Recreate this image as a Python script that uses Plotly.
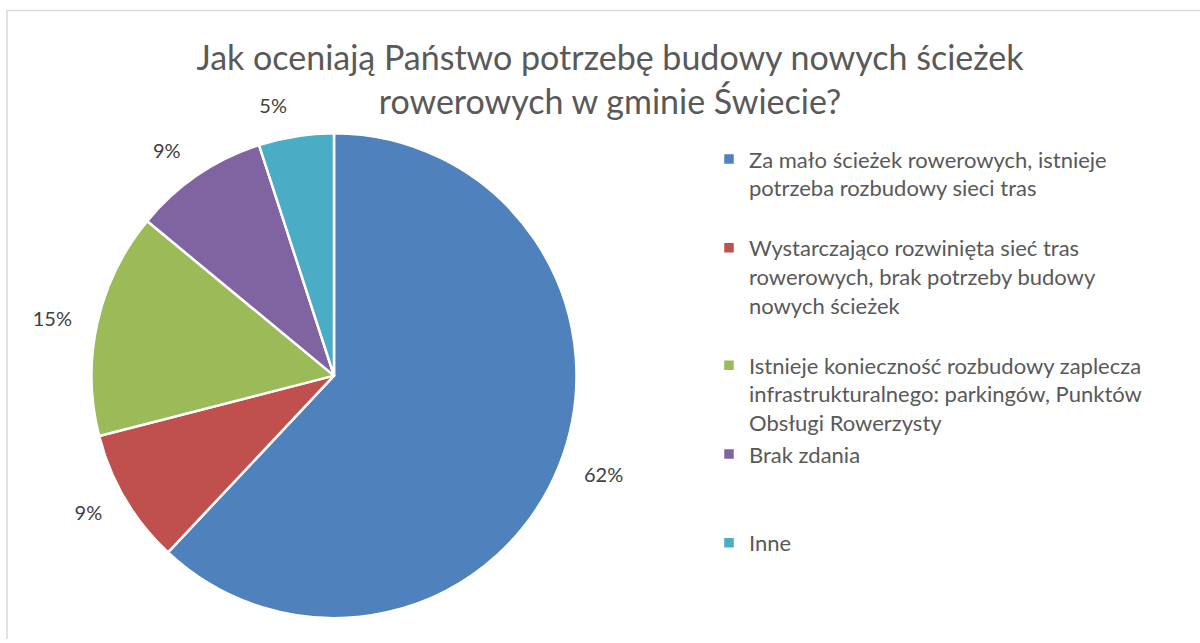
import plotly.graph_objects as go

categories = [
    "Za mało ścieżek rowerowych, istnieje<br>potrzeba rozbudowy sieci tras",
    "Wystarczająco rozwinięta sieć tras<br>rowerowych, brak potrzeby budowy<br>nowych ścieżek",
    "Istnieje konieczność rozbudowy zaplecza<br>infrastrukturalnego: parkingów, Punktów<br>Obsługi Rowerzysty",
    "Brak zdania",
    "Inne",
]
values = [62, 9, 15, 9, 5]
colors = ["#4F81BD", "#C0504D", "#9BBB59", "#8064A2", "#4BACC6"]
title_text = "Jak oceniają Państwo potrzebę budowy nowych ścieżek<br>rowerowych w gminie Świecie?"

# pad legend entries so their vertical spacing resembles the reference
legend_line_counts = [3, 4, 3, 3, 1]
legend_labels = []
for c, n_total in zip(categories, legend_line_counts):
    n = c.count("<br>") + 1
    legend_labels.append(c + "<br>&nbsp;" * max(0, n_total - n))

W, H = 1200, 643
cx, cy, r = 334, 378, 244
r_lab = r + 20


def dom(rad):
    return dict(x=[(cx - rad) / W, (cx + rad) / W], y=[1 - (cy + rad) / H, 1 - (cy - rad) / H])


fig = go.Figure()
fig.add_trace(go.Pie(
    labels=legend_labels,
    values=values,
    sort=False,
    direction="clockwise",
    rotation=0,
    marker=dict(colors=colors, line=dict(color="white", width=2.5)),
    textinfo="none",
    hoverinfo="label+percent",
    domain=dom(r),
    showlegend=True,
))
# percentage labels (same data, transparent wedges slightly larger so labels sit further out)
fig.add_trace(go.Pie(
    labels=legend_labels,
    values=values,
    sort=False,
    direction="clockwise",
    rotation=0,
    marker=dict(colors=["rgba(0,0,0,0)"] * len(values), line=dict(width=0)),
    textposition="outside",
    texttemplate="%{percent:.0%}",
    textfont=dict(size=20, color="#404040", family="Lato"),
    hoverinfo="skip",
    domain=dom(r_lab),
    showlegend=False,
))

fig.update_layout(
    width=W, height=H,
    margin=dict(l=0, r=0, t=0, b=0),
    paper_bgcolor="white",
    plot_bgcolor="white",
    font=dict(family="Lato", color="#595959"),
    title=dict(
        text=title_text,
        x=610 / W, xanchor="center",
        y=1 - 70 / H, yanchor="middle", yref="container",
        font=dict(size=34, color="#595959", family="Lato"),
    ),
    legend=dict(
        x=(749 - 40) / W, xanchor="left",
        y=1 - 139 / H, yanchor="top",
        valign="top",
        font=dict(size=22, color="#595959", family="Lato"),
        bgcolor="rgba(0,0,0,0)",
    ),
    shapes=[
        dict(type="line", xref="paper", yref="paper", x0=6 / W, x1=1, y0=1 - 10.5 / H, y1=1 - 10.5 / H,
             line=dict(color="#D9D9D9", width=1.5)),
        dict(type="line", xref="paper", yref="paper", x0=7 / W, x1=7 / W, y0=0, y1=1 - 10 / H,
             line=dict(color="#D9D9D9", width=1.5)),
    ],
)

fig.write_html("out.html", config={"displayModeBar": False},
               post_script="document.body.style.margin='0';")
